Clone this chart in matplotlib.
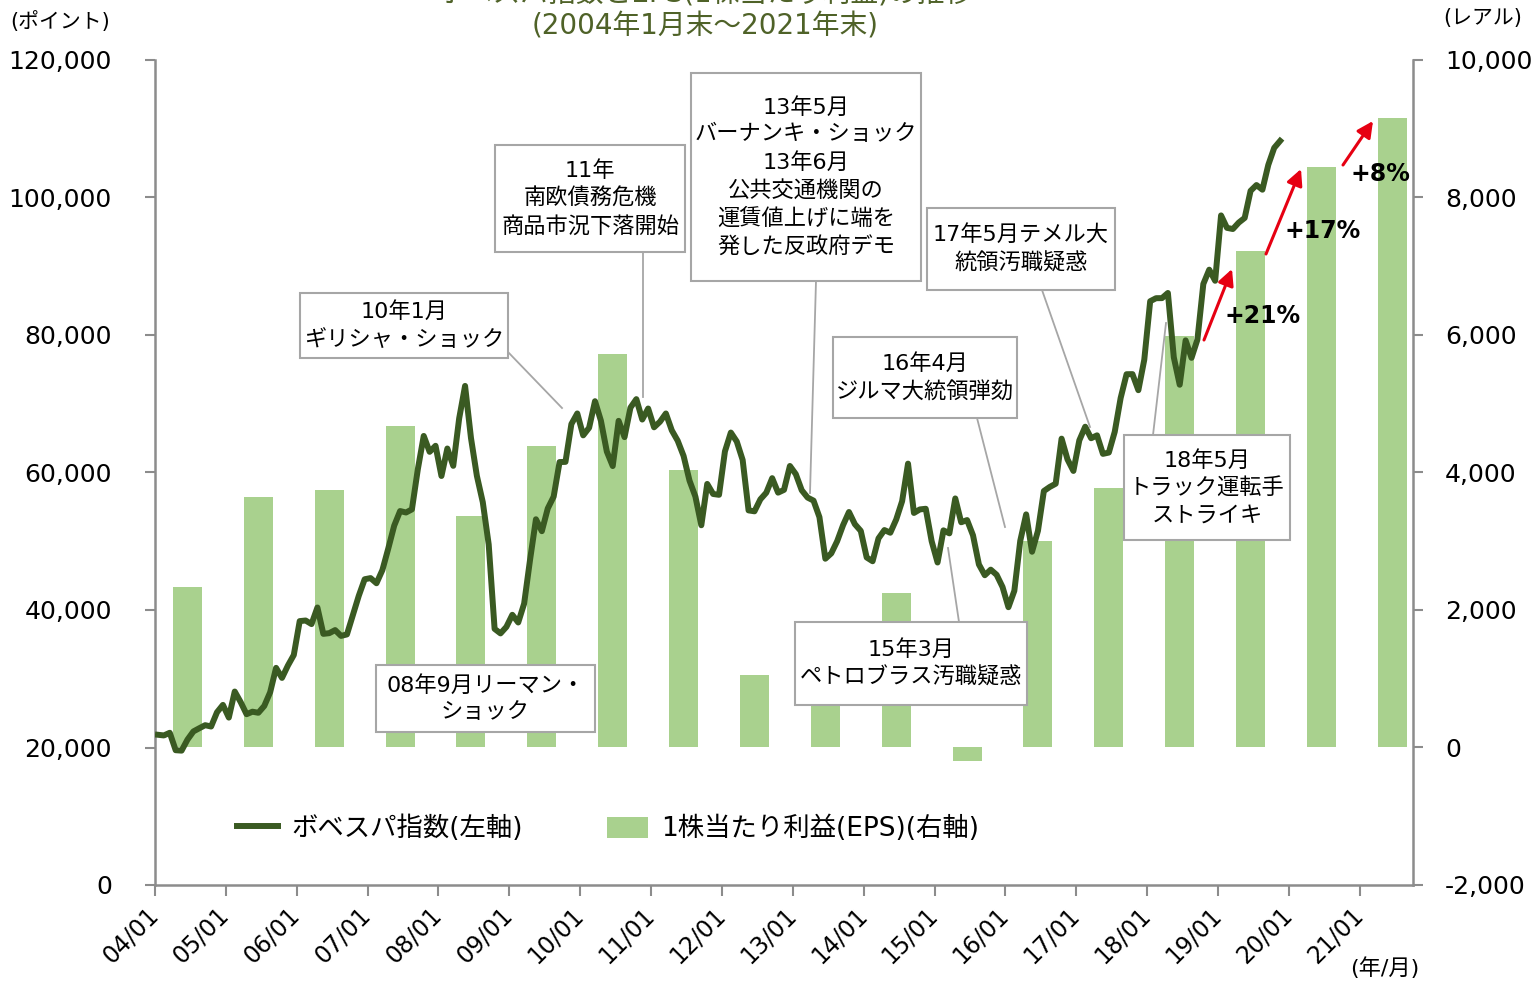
import numpy as np
import matplotlib
matplotlib.use("Agg")
import matplotlib.pyplot as plt
from matplotlib.patches import Rectangle, Patch
from matplotlib.lines import Line2D
from matplotlib.transforms import ScaledTranslation

plt.rcParams['font.family'] = ['DejaVu Sans', 'Noto Sans CJK JP']

# Bovespa index, month-end (2004/01 - 2019/11)
bovespa = [
    21851, 21755, 22142, 19607, 19545, 21149, 22337, 22803, 23245, 23052, 25128, 26196,  # 2004
    24351, 28139, 26610, 24843, 25207, 25051, 26042, 28043, 31583, 30121, 31916, 33455,  # 2005
    38383, 38470, 37952, 40365, 36530, 36630, 37077, 36232, 36449, 39262, 42061, 44473,  # 2006
    44641, 43892, 45804, 48956, 52268, 54392, 54182, 54637, 60465, 65317, 63006, 63886,  # 2007
    59490, 63489, 60968, 67868, 72593, 65017, 59505, 55680, 49541, 37257, 36596, 37550,  # 2008
    39301, 38183, 40926, 47290, 53198, 51465, 54766, 56489, 61518, 61546, 67044, 68588,  # 2009
    65402, 66503, 70372, 67530, 63047, 60936, 67515, 65145, 69430, 70673, 67705, 69305,  # 2010
    66575, 67383, 68587, 66133, 64620, 62404, 58823, 56495, 52324, 58338, 56875, 56754,  # 2011
    63072, 65812, 64511, 61820, 54490, 54355, 56097, 57061, 59175, 57068, 57475, 60952,  # 2012
    59761, 57424, 56352, 55910, 53506, 47457, 48234, 50008, 52338, 54256, 52482, 51507,  # 2013
    47639, 47094, 50415, 51627, 51239, 53168, 55829, 61288, 54116, 54629, 54724, 50007,  # 2014
    46908, 51583, 51150, 56229, 52760, 53081, 50865, 46626, 45059, 45869, 45120, 43350,  # 2015
    40406, 42794, 50055, 53911, 48472, 51527, 57308, 57901, 58367, 64925, 61906, 60227,  # 2016
    64671, 66662, 64984, 65403, 62711, 62900, 65920, 70835, 74294, 74308, 71971, 76402,  # 2017
    84913, 85353, 85365, 86115, 76753, 72762, 79220, 76677, 79342, 87424, 89504, 87887,  # 2018
    97394, 95584, 95415, 96353, 97030, 100967, 101812, 101135, 104745, 107220, 108233,   # 2019
]

# EPS (reais), 2004 - 2021
eps_years = list(range(2004, 2022))
eps = [2330, 3650, 3750, 4670, 3360, 4390, 5720, 4030, 1060, 1300,
       2240, -190, 3010, 3780, 5980, 7220, 8440, 9150]

tick_years = list(range(2004, 2022))
tick_labels = [f"{y % 100:02d}/01" for y in tick_years]

# event boxes: text, box (x0, y0, x1, y1) in px, leader line (x0, y0, x1, y1) in px
events = [
    ("10年1月\nギリシャ・ショック", (300, 293, 508, 358), (508, 352, 562, 408)),
    ("11年\n南欧債務危機\n商品市況下落開始", (495, 145, 685, 252), (643, 252, 643, 397)),
    ("13年5月\nバーナンキ・ショック\n13年6月\n公共交通機関の\n運賃値上げに端を\n発した反政府デモ",
     (691, 73, 921, 281), (816, 281, 810, 493)),
    ("17年5月テメル大\n統領汚職疑惑", (927, 208, 1115, 290), (1042, 290, 1090, 427)),
    ("16年4月\nジルマ大統領弾劾", (833, 337, 1017, 418), (977, 418, 1005, 527)),
    ("15年3月\nペトロブラス汚職疑惑", (795, 622, 1027, 705), (959, 622, 948, 548)),
    ("08年9月リーマン・\nショック", (376, 665, 595, 732), None),
    ("18年5月\nトラック運転手\nストライキ", (1124, 435, 1290, 540), (1153, 435, 1166, 323)),
]

growth = [
    ("+21%", (1204, 340), (1232, 269), (1263, 316)),
    ("+17%", (1266, 254), (1301, 169), (1323, 231)),
    ("+8%", (1343, 165), (1373, 121), (1380, 174)),
]

W, H = 1535, 981
L, R, T, B = 155, 1413, 60, 885
line_color = '#3A5A22'
bar_color = '#A9D18E'
grey = '#8C8C8C'


def axf(x, y):
    return ((x - L) / (R - L), (B - y) / (B - T))


fig = plt.figure(figsize=(W / 100, H / 100), dpi=100)
ax = fig.add_axes([L / W, 1 - B / H, (R - L) / W, (B - T) / H])
ax2 = ax.twinx()

# bars (right axis)
ax2.bar(np.array(eps_years) + 0.458, eps, width=0.41, color=bar_color, zorder=1)
ax2.set_ylim(-2000, 10000)
ax2.set_yticks(range(-2000, 10001, 2000))
ax2.set_yticklabels([f"{v:,}" for v in range(-2000, 10001, 2000)])

# line (left axis)
months = 2004 + (np.arange(len(bovespa)) + 0.5) / 12
ax.plot(months, bovespa, color=line_color, lw=4.3, solid_joinstyle='round', zorder=3)
ax.set_ylim(0, 120000)
ax.set_yticks(range(0, 120001, 20000))
ax.set_yticklabels([f"{v:,}" for v in range(0, 120001, 20000)])
ax.set_xlim(2004, 2021.75)
ax.set_xticks(tick_years)
ax.set_xticklabels(tick_labels, rotation=45, ha='right')

ax.set_zorder(ax2.get_zorder() + 1)
ax.patch.set_visible(False)

for a in (ax, ax2):
    a.spines['top'].set_visible(False)
    for s in a.spines.values():
        s.set_color(grey)
        s.set_linewidth(1.8)
ax.spines['right'].set_visible(False)
ax2.spines['left'].set_visible(False)
ax2.spines['bottom'].set_visible(False)

ax.tick_params(axis='y', length=7, width=1.5, color=grey, labelsize=18, pad=24)
ax.tick_params(axis='x', length=8, width=1.5, color=grey, labelsize=17, pad=5)
ax2.tick_params(axis='y', length=7, width=1.5, color=grey, labelsize=18, pad=16)

# nudge the rotated date labels a little to the right (after tick_params)
shift = ScaledTranslation(8 / 100, 0, fig.dpi_scale_trans)
for lab in ax.get_xticklabels():
    lab.set_transform(lab.get_transform() + shift)

# event boxes
for text, (x0, y0, x1, y1), leader in events:
    if leader is not None:
        lx0, ly0 = axf(leader[0], leader[1])
        lx1, ly1 = axf(leader[2], leader[3])
        ax.add_line(Line2D([lx0, lx1], [ly0, ly1], transform=ax.transAxes,
                           color='#A6A6A6', lw=1.3, zorder=5, clip_on=False))
    bx0, by0 = axf(x0, y1)
    bx1, by1 = axf(x1, y0)
    ax.add_patch(Rectangle((bx0, by0), bx1 - bx0, by1 - by0, transform=ax.transAxes,
                           facecolor='white', edgecolor='#A6A6A6', lw=1.5, zorder=6,
                           clip_on=False))
    ax.text((bx0 + bx1) / 2, (by0 + by1) / 2, text, transform=ax.transAxes,
            ha='center', va='center', ma='center', fontsize=16, linespacing=1.42,
            zorder=7)

# growth arrows
for label, tail, head, pos in growth:
    ax.annotate('', xy=axf(*head), xytext=axf(*tail), xycoords='axes fraction',
                textcoords='axes fraction',
                arrowprops=dict(arrowstyle='-|>', color='#E60012', lw=2.2,
                                mutation_scale=24, shrinkA=0, shrinkB=0), zorder=8)
    ax.text(*axf(*pos), label, transform=ax.transAxes, ha='center', va='center',
            fontsize=17, fontweight='bold', zorder=8)

# legend
handles = [Line2D([], [], color=line_color, lw=4.3),
           Patch(facecolor=bar_color, edgecolor='none')]
ax.legend(handles, ['ボベスパ指数(左軸)', '1株当たり利益(EPS)(右軸)'],
          loc='center left', bbox_to_anchor=axf(237, 829), frameon=False, ncol=2,
          fontsize=19, handlelength=1.55, handleheight=0.85, handletextpad=0.5,
          columnspacing=3.2, borderpad=0, borderaxespad=0)

# titles and unit labels
title_color = '#4F6228'
fig.text(705 / W, 1 + 6 / H, 'ボベスパ指数とEPS(1株当たり利益)の推移', ha='center',
         va='center', fontsize=20, color=title_color)
fig.text(705 / W, 1 - 27 / H, '(2004年1月末～2021年末)', ha='center', va='center',
         fontsize=20, color=title_color)
fig.text(10 / W, 1 - 22 / H, '(ポイント)', ha='left', va='center', fontsize=15)
fig.text(1443 / W, 1 - 18 / H, '(レアル)', ha='left', va='center', fontsize=15)
fig.text(1350 / W, 1 - 968 / H, '(年/月)', ha='left', va='center', fontsize=16)

fig.savefig('out.png', dpi=100)
